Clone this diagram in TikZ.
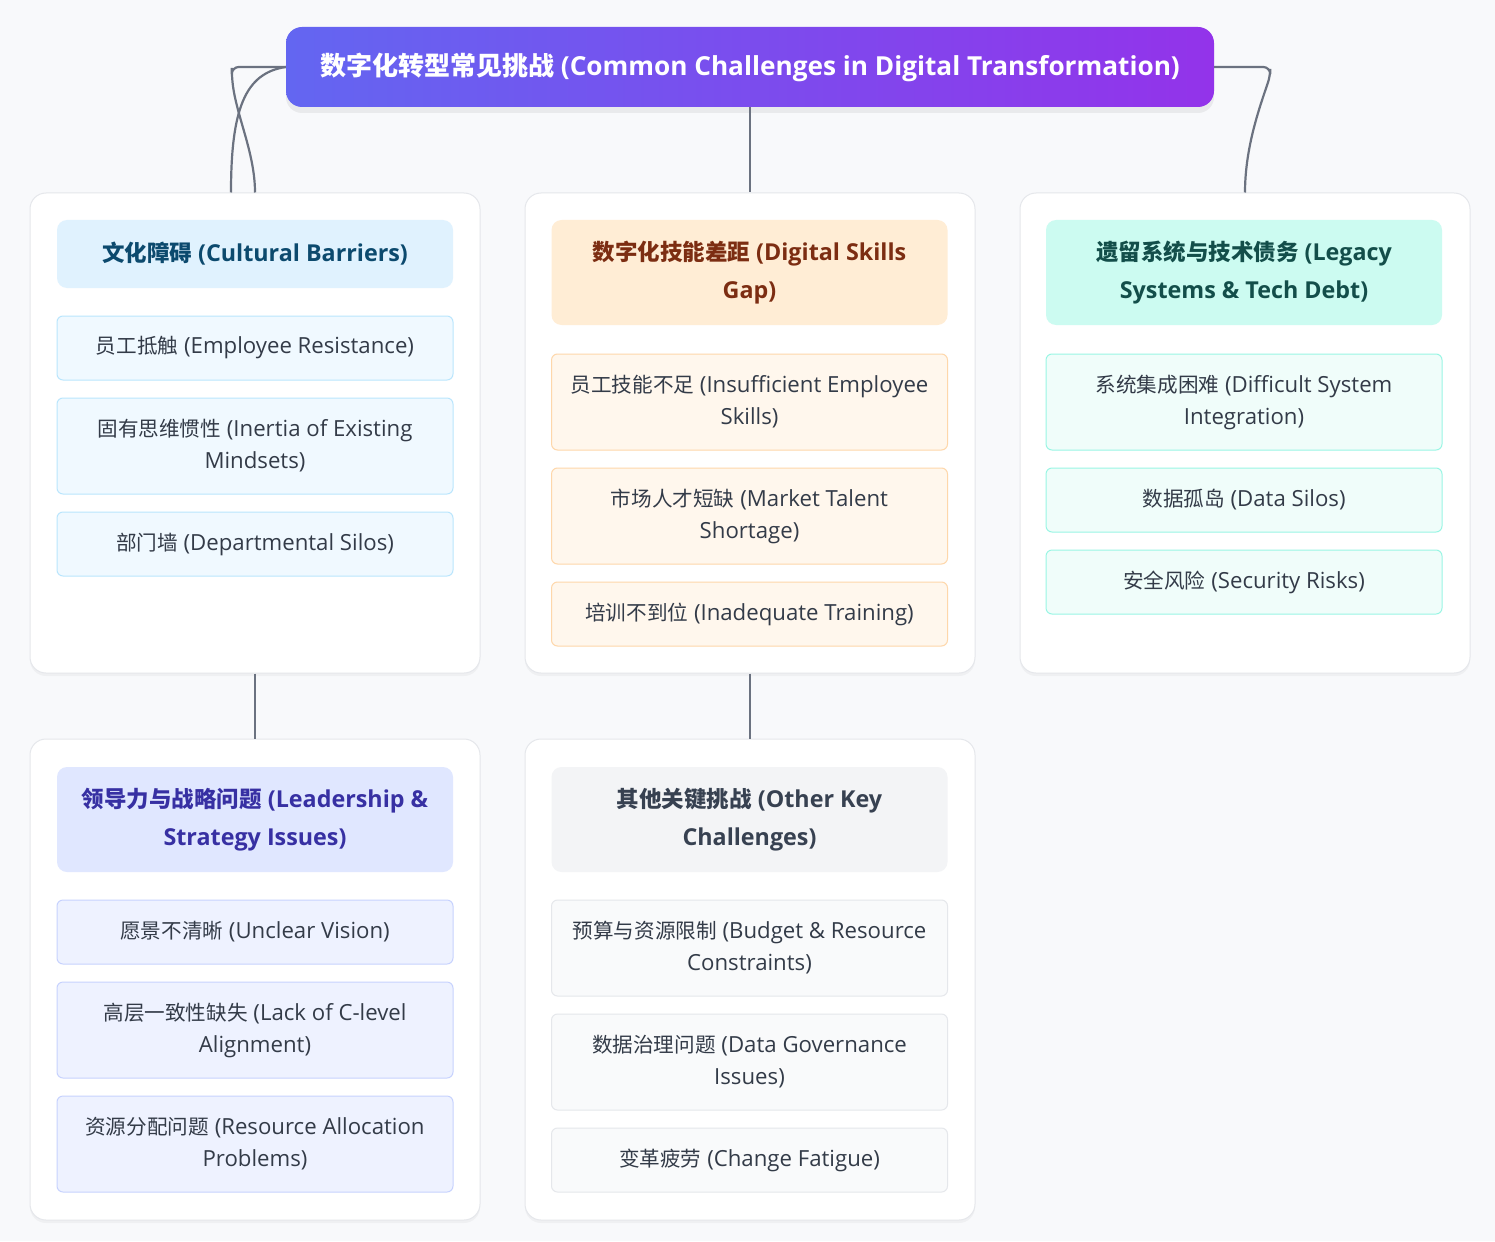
\documentclass[tikz,border=0pt]{standalone}
\usepackage{fontspec}
\setmainfont{Open Sans}
\newfontfamily\cjk{Noto Sans CJK SC}
\usetikzlibrary{shadows}
\definecolor{bg}{HTML}{F8F9FB}
\definecolor{cardline}{HTML}{E5E7EB}
\definecolor{conn}{HTML}{6B7280}
\definecolor{titleA}{HTML}{6366F1}
\definecolor{titleB}{HTML}{9333EA}
\definecolor{itemtext}{HTML}{333B48}
\definecolor{bhf}{HTML}{E0F2FE}\definecolor{bht}{HTML}{0C4A6E}\definecolor{bif}{HTML}{F0F9FF}\definecolor{bib}{HTML}{BAE6FD}
\definecolor{ohf}{HTML}{FFEDD5}\definecolor{oht}{HTML}{7C2D12}\definecolor{oif}{HTML}{FFF7ED}\definecolor{oib}{HTML}{FED7AA}
\definecolor{thf}{HTML}{CCFBF1}\definecolor{tht}{HTML}{134E4A}\definecolor{tif}{HTML}{F0FDFA}\definecolor{tib}{HTML}{99F6E4}
\definecolor{ihf}{HTML}{E0E7FF}\definecolor{iht}{HTML}{3730A3}\definecolor{iif}{HTML}{EEF2FF}\definecolor{iib}{HTML}{C7D2FE}
\definecolor{ghf}{HTML}{F3F4F6}\definecolor{ght}{HTML}{374151}\definecolor{gif}{HTML}{F9FAFB}\definecolor{gib}{HTML}{E5E7EB}
\def\zhsz{20}
\def\zhls{32}
\newcommand{\zh}[1]{{\cjk\fontsize{\zhsz}{\zhls}\selectfont #1}}
\tikzset{
  card/.style={draw=cardline, fill=white, line width=1pt, rounded corners=16pt,
    minimum width=450pt, minimum height=480pt, inner sep=0pt,
    drop shadow={shadow xshift=0pt, shadow yshift=-3pt, opacity=0.07}},
  hdr/.style={rounded corners=10pt, minimum width=396pt, inner sep=0pt, align=center,
    font=\def\zhsz{22.5}\def\zhls{38}\fontsize{23.3}{38}\selectfont\bfseries},
  item/.style={rounded corners=6pt, line width=1pt, minimum width=396pt, inner sep=0pt,
    align=center, text=itemtext, font=\def\zhsz{20.6}\def\zhls{32}\fontsize{22.2}{32}\selectfont},
  hone/.style={hdr, minimum height=68pt},
  htwo/.style={hdr, minimum height=105pt},
  ione/.style={item, minimum height=64pt},
  itwo/.style={item, minimum height=96pt},
  conline/.style={draw=conn, line width=2.2pt},
}
\begin{document}
\begin{tikzpicture}[x=1pt,y=-1pt]
\fill[bg] (0,0) rectangle (1495,1241);
\useasboundingbox (0,0) rectangle (1495,1241);

% cards
\node[card] (card1) at (255,433) {};
\node[card] (card2) at (750,433) {};
\node[card] (card3) at (1245,433) {};
\node[card, minimum height=481pt] (card4) at (255,979.5) {};
\node[card, minimum height=481pt] (card5) at (750,979.5) {};

% title
\node[rounded corners=16pt, left color=titleA, right color=titleB, minimum width=928pt,
  minimum height=80pt, inner sep=0pt, text=white,
  font=\def\zhsz{26}\def\zhls{32}\fontsize{26.2}{32}\selectfont\bfseries,
  drop shadow={shadow xshift=0pt, shadow yshift=-6pt, opacity=0.12}]
  (title) at (750,67) {\zh{数字化转型常见挑战} (Common Challenges in Digital Transformation)};

% connectors
\draw[conline] (title.south) -- (card2.north);
\draw[conline, rounded corners=7pt] (title.west) -- ++(-54,0) -- ++(0,8)
  .. controls +(4,40) and +(0,-40) .. (card1.north);
\draw[conline] (title.west) .. controls +(-41,6) and +(0,-83) .. ([xshift=-24pt]card1.north);
\draw[conline, rounded corners=7pt] (title.east) -- ++(56,0) -- ++(0,9)
  .. controls +(-12,35) and +(0,-43) .. (card3.north);
\draw[conline] (card1.south) -- (card4.north);
\draw[conline] (card2.south) -- (card5.north);

% column 1: cultural
\node[hone, fill=bhf, text=bht] (h1) at (255,254) {\zh{文化障碍} (Cultural Barriers)};
\node[ione, fill=bif, draw=bib] (i11) at (255,348) {\zh{员工抵触} (Employee Resistance)};
\node[itwo, fill=bif, draw=bib] (i12) at (255,446) {\zh{固有思维惯性} (Inertia of Existing\\Mindsets)};
\node[ione, fill=bif, draw=bib] (i13) at (255,544) {\zh{部门墙} (Departmental Silos)};

% column 2: skills
\node[htwo, fill=ohf, text=oht] (h2) at (749.5,272.5) {\zh{数字化技能差距} (Digital Skills\\Gap)};
\node[itwo, fill=oif, draw=oib] (i21) at (749.5,402) {\zh{员工技能不足} (Insufficient Employee\\Skills)};
\node[itwo, fill=oif, draw=oib] (i22) at (749.5,516) {\zh{市场人才短缺} (Market Talent\\Shortage)};
\node[ione, fill=oif, draw=oib] (i23) at (749.5,614) {\zh{培训不到位} (Inadequate Training)};

% column 3: legacy
\node[htwo, fill=thf, text=tht] (h3) at (1244,272.5) {\zh{遗留系统与技术债务} (Legacy\\Systems \& Tech Debt)};
\node[itwo, fill=tif, draw=tib] (i31) at (1244,402) {\zh{系统集成困难} (Difficult System\\Integration)};
\node[ione, fill=tif, draw=tib] (i32) at (1244,500) {\zh{数据孤岛} (Data Silos)};
\node[ione, fill=tif, draw=tib] (i33) at (1244,582) {\zh{安全风险} (Security Risks)};

% row 2 col 1: leadership
\node[htwo, fill=ihf, text=iht] (h4) at (255,819.5) {\zh{领导力与战略问题} (Leadership \&\\Strategy Issues)};
\node[ione, fill=iif, draw=iib] (i41) at (255,932) {\zh{愿景不清晰} (Unclear Vision)};
\node[itwo, fill=iif, draw=iib] (i42) at (255,1030) {\zh{高层一致性缺失} (Lack of C-level\\Alignment)};
\node[itwo, fill=iif, draw=iib] (i43) at (255,1144) {\zh{资源分配问题} (Resource Allocation\\Problems)};

% row 2 col 2: other
\node[htwo, fill=ghf, text=ght] (h5) at (749.5,819.5) {\zh{其他关键挑战} (Other Key\\Challenges)};
\node[itwo, fill=gif, draw=gib] (i51) at (749.5,948) {\zh{预算与资源限制} (Budget \& Resource\\Constraints)};
\node[itwo, fill=gif, draw=gib] (i52) at (749.5,1062) {\zh{数据治理问题} (Data Governance\\Issues)};
\node[ione, fill=gif, draw=gib] (i53) at (749.5,1160) {\zh{变革疲劳} (Change Fatigue)};
\end{tikzpicture}
\end{document}
